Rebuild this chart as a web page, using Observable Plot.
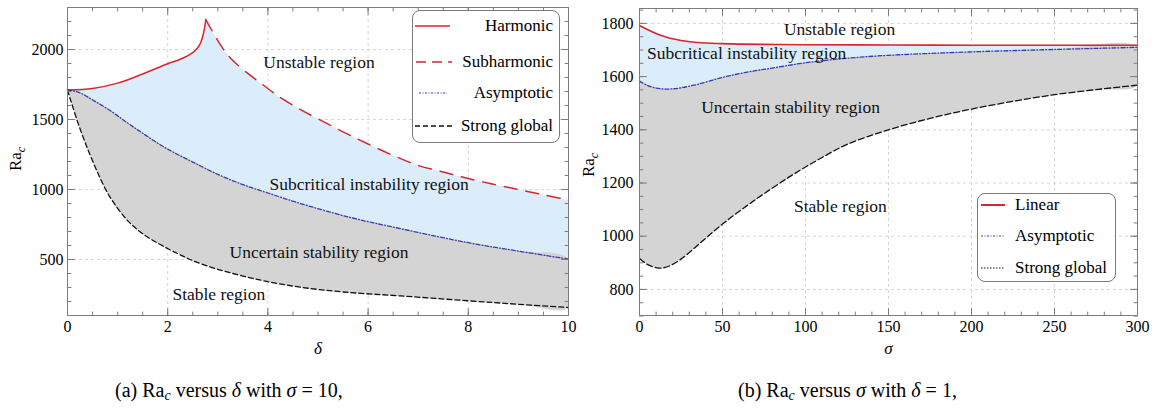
<!DOCTYPE html>
<html><head><meta charset="utf-8">
<script src="https://cdn.jsdelivr.net/npm/d3@7"></script>
<script src="https://cdn.jsdelivr.net/npm/@observablehq/plot@0.6"></script>
<style>
body{margin:0;background:#fff;font-family:"Liberation Serif","Times New Roman",serif;}
#wrap{position:relative;width:1155px;height:409px;overflow:hidden;background:#fff;font-family:"Liberation Serif","Times New Roman",serif;}
.panel{position:absolute;top:0;}
.cap{position:absolute;font-size:20px;white-space:nowrap;line-height:1;color:#000;font-family:"Liberation Serif","Times New Roman",serif;}
.cap sub{font-size:14px;vertical-align:-3px;line-height:0;}
.lg{position:absolute;border:1px solid #7a7a7a;border-radius:8px;background:#fff;box-sizing:border-box;}
.lgtext{position:absolute;font-size:17px;line-height:1;white-space:nowrap;color:#000;font-family:"Liberation Serif","Times New Roman",serif;}
.lgline{position:absolute;overflow:visible;}
</style>
</head><body>
<div id="wrap"></div>
<script>
// ---------- data: panel (a) Ra_c vs delta, sigma = 10 ----------
const deltaHarmonic = [0, 0.5, 1.0, 1.5, 2.0, 2.25, 2.5, 2.6, 2.66, 2.72, 2.76];
const raHarmonic    = [1712, 1722, 1760, 1825, 1898, 1930, 1978, 2012, 2050, 2125, 2214];
const deltaSub = [2.76, 2.86, 3.06, 3.26, 3.6, 3.92, 4.2, 4.65, 5.0, 5.5, 6.0, 6.5, 7.0, 7.5, 8.0, 8.5, 9.0, 9.5, 10];
const raSub    = [2214, 2150, 2029, 1936, 1829, 1743, 1668, 1570, 1505, 1412, 1325, 1243, 1172, 1125, 1078, 1038, 1000, 962, 925];
const deltaAsym = [0, 0.25, 0.5, 0.85, 1.2, 1.5, 1.85, 2.2, 2.5, 3.0, 3.5, 4.0, 4.65, 5.65, 6.65, 8, 9, 10];
const raAsym    = [1712, 1690, 1640, 1564, 1475, 1402, 1320, 1250, 1196, 1108, 1035, 975, 900, 800, 720, 620, 560, 503];
const deltaStrong = [0, 0.05, 0.1, 0.2, 0.3, 0.4, 0.6, 0.85, 1.2, 1.5, 1.85, 2.2, 2.5, 3.0, 3.5, 4.0, 4.65, 5.5, 6.65, 8, 9, 10];
const raStrong    = [1712, 1652, 1596, 1485, 1385, 1292, 1122, 945, 778, 684, 607, 542, 492, 430, 382, 342, 302, 268, 240, 205, 180, 157];

// ---------- data: panel (b) Ra_c vs sigma, delta = 1 ----------
const sigmaLinear = [0, 5, 10, 15, 20, 25, 35, 50, 75, 100, 150, 200, 250, 300];
const raLinear    = [1792, 1776, 1762, 1751, 1742, 1736, 1728, 1724, 1721, 1720, 1719, 1718, 1718, 1718];
const sigmaAsym = [0, 5, 10, 15, 20, 25, 35, 50, 65, 80, 100, 125, 150, 200, 250, 300];
const raAsymB   = [1583, 1566, 1557, 1553, 1554, 1558, 1571, 1597, 1617, 1632, 1652, 1669, 1680, 1693, 1702, 1710];
const sigmaStrong = [0, 5, 10, 13, 18, 25, 35, 45, 55, 65, 75, 90, 100, 110, 125, 150, 175, 200, 225, 250, 275, 300];
const raStrongB   = [916, 893, 882, 880, 888, 914, 966, 1020, 1070, 1116, 1160, 1222, 1260, 1296, 1345, 1400, 1443, 1478, 1507, 1532, 1551, 1568];

// ---------- ticks ----------
const aXTicks = [0, 2, 4, 6, 8, 10];
const aYTicks = [500, 1000, 1500, 2000];
const bXTicks = [0, 50, 100, 150, 200, 250, 300];
const bYTicks = [800, 1000, 1200, 1400, 1600, 1800];
const aXMinor = d3.range(0, 10.001, 0.5);
const aYMinor = d3.range(100, 2300.1, 100);
const bXMinor = d3.range(0, 300.1, 10);
const bYMinor = d3.range(700, 1850.1, 50);

// ---------- region annotations ----------
const aRegions = [
  {t: "Unstable region", x: 5.02, y: 1907},
  {t: "Subcritical instability region", x: 6.02, y: 1036},
  {t: "Uncertain stability region", x: 5.02, y: 550},
  {t: "Stable region", x: 3.02, y: 250}
];
const bRegions = [
  {t: "Unstable region", x: 120.5, y: 1777},
  {t: "Subcritical instability region", x: 64.5, y: 1687},
  {t: "Uncertain stability region", x: 91, y: 1485},
  {t: "Stable region", x: 121, y: 1114}
];

const serif = '"Liberation Serif", "Times New Roman", serif';
const colRed = "#d8262f", colBlue = "#3a3aac", fillBlue = "#dbecfb", fillGray = "#d4d4d4", frameCol = "#7d7d7d", gridCol = "#d6d6d6";
const crv = "catmull-rom";

function series(xs, ys) { return xs.map((x, i) => ({x, y: ys[i]})); }
function poly(upper, lower) { return upper.concat(lower.slice().reverse()); }

const shUp = {draw(c, l) { c.moveTo(0, 0); c.lineTo(0, -l); }};
const shDown = {draw(c, l) { c.moveTo(0, 0); c.lineTo(0, l); }};
const shRight = {draw(c, l) { c.moveTo(0, 0); c.lineTo(l, 0); }};
const shLeft = {draw(c, l) { c.moveTo(0, 0); c.lineTo(-l, 0); }};

function tickMarks(xMaj, xMin, yMaj, yMin) {
  const o = {anchor: "start", stroke: frameCol, strokeWidth: 1};
  const m = [];
  for (const [arr, len] of [[xMaj, 7], [xMin, 3.5]]) {
    m.push(Plot.vector(arr, {...o, x: d => d, frameAnchor: "bottom", length: len, shape: shUp}));
    m.push(Plot.vector(arr, {...o, x: d => d, frameAnchor: "top", length: len, shape: shDown}));
  }
  for (const [arr, len] of [[yMaj, 7], [yMin, 3.5]]) {
    m.push(Plot.vector(arr, {...o, y: d => d, frameAnchor: "left", length: len, shape: shRight}));
    m.push(Plot.vector(arr, {...o, y: d => d, frameAnchor: "right", length: len, shape: shLeft}));
  }
  return m;
}

function raLabel(svg, x, y) {
  const t = d3.select(svg).append("text")
    .attr("transform", `translate(${x},${y}) rotate(-90)`)
    .attr("text-anchor", "middle").attr("font-family", serif)
    .attr("font-size", 17).attr("fill", "#000");
  t.append("tspan").text("Ra");
  t.append("tspan").attr("font-style", "italic").attr("font-size", 12).attr("dy", 4).text("c");
}

const axisOpts = {tickSize: 0, fontSize: 16, fontFamily: serif, fill: "#000", label: null, tickFormat: d => String(d)};
const wrap = document.getElementById("wrap");

// ---------- panel (a) ----------
const harm = series(deltaHarmonic, raHarmonic);
const sub = series(deltaSub, raSub);
const asymA = series(deltaAsym, raAsym);
const strongA = series(deltaStrong, raStrong);
const plotA = Plot.plot({
  width: 575, height: 360,
  marginLeft: 67, marginRight: 7, marginTop: 7, marginBottom: 45,
  style: {fontFamily: serif, background: "transparent", overflow: "visible"},
  x: {domain: [0, 10]},
  y: {domain: [100, 2300]},
  marks: [
    Plot.gridX(aXTicks, {stroke: gridCol, strokeOpacity: 1, strokeDasharray: "3,3"}),
    Plot.gridY(aYTicks, {stroke: gridCol, strokeOpacity: 1, strokeDasharray: "3,3"}),
    Plot.line(poly(harm.concat(sub.slice(1)), asymA), {x: "x", y: "y", fill: fillBlue, stroke: "none", clip: true}),
    Plot.line(poly(asymA, strongA), {x: "x", y: "y", fill: fillGray, stroke: "none", curve: crv, clip: true}),
    Plot.line(harm, {x: "x", y: "y", stroke: colRed, strokeWidth: 1.5, curve: crv}),
    Plot.line(sub, {x: "x", y: "y", stroke: colRed, strokeWidth: 1.5, strokeDasharray: "13,9", curve: crv}),
    Plot.line(asymA, {x: "x", y: "y", stroke: colBlue, strokeWidth: 1.3, strokeDasharray: "4,2,1,2", curve: crv}),
    Plot.line(strongA, {x: "x", y: "y", stroke: "#111", strokeWidth: 1.3, strokeDasharray: "5,3", curve: crv}),
    Plot.frame({stroke: frameCol}),
    ...tickMarks(aXTicks, aXMinor, aYTicks, aYMinor),
    Plot.axisX(aXTicks, {...axisOpts, tickPadding: 5}),
    Plot.axisY(aYTicks, {...axisOpts, tickPadding: 4}),
    Plot.text(aRegions, {x: "x", y: "y", text: "t", fontSize: 17.5, fontFamily: serif, fill: "#111"}),
    Plot.text(["δ"], {text: d => d, frameAnchor: "bottom", dy: 38, fontSize: 17, fontFamily: serif, fontStyle: "italic", fill: "#000"})
  ]
});
raLabel(plotA, 21, 159);
const divA = document.createElement("div");
divA.className = "panel"; divA.style.left = "0px";
divA.appendChild(plotA); wrap.appendChild(divA);

// ---------- panel (b) ----------
const linB = series(sigmaLinear, raLinear);
const asymB = series(sigmaAsym, raAsymB);
const strongB = series(sigmaStrong, raStrongB);
const plotB = Plot.plot({
  width: 575, height: 360,
  marginLeft: 59, marginRight: 18, marginTop: 8, marginBottom: 45,
  style: {fontFamily: serif, background: "transparent", overflow: "visible"},
  x: {domain: [0, 300]},
  y: {domain: [702, 1856]},
  marks: [
    Plot.gridX(bXTicks, {stroke: gridCol, strokeOpacity: 1, strokeDasharray: "3,3"}),
    Plot.gridY(bYTicks, {stroke: gridCol, strokeOpacity: 1, strokeDasharray: "3,3"}),
    Plot.line(poly(linB, asymB), {x: "x", y: "y", fill: fillBlue, stroke: "none", curve: crv, clip: true}),
    Plot.line(poly(asymB, strongB), {x: "x", y: "y", fill: fillGray, stroke: "none", curve: crv, clip: true}),
    Plot.line(linB, {x: "x", y: "y", stroke: colRed, strokeWidth: 1.6, curve: crv}),
    Plot.line(asymB, {x: "x", y: "y", stroke: colBlue, strokeWidth: 1.3, strokeDasharray: "4,2,1,2", curve: crv}),
    Plot.line(strongB, {x: "x", y: "y", stroke: "#111", strokeWidth: 1.3, strokeDasharray: "6,3", curve: crv}),
    Plot.frame({stroke: frameCol}),
    ...tickMarks(bXTicks, bXMinor, bYTicks, bYMinor),
    Plot.axisX(bXTicks, {...axisOpts, tickPadding: 5}),
    Plot.axisY(bYTicks, {...axisOpts, tickPadding: 6}),
    Plot.text(bRegions, {x: "x", y: "y", text: "t", fontSize: 17.5, fontFamily: serif, fill: "#111"}),
    Plot.text(["σ"], {text: d => d, frameAnchor: "bottom", dy: 38, fontSize: 17, fontFamily: serif, fontStyle: "italic", fill: "#000"})
  ]
});
raLabel(plotB, 14, 165);
const divB = document.createElement("div");
divB.className = "panel"; divB.style.left = "580px";
divB.appendChild(plotB); wrap.appendChild(divB);

// ---------- legends ----------
function legend(box, items) {
  const b = document.createElement("div");
  b.className = "lg";
  Object.assign(b.style, {left: box.left + "px", top: box.top + "px", width: box.w + "px", height: box.h + "px"});
  wrap.appendChild(b);
  for (const it of items) {
    const s = document.createElementNS("http://www.w3.org/2000/svg", "svg");
    s.setAttribute("class", "lgline");
    s.setAttribute("width", it.x2 - it.x1); s.setAttribute("height", 4);
    s.style.left = it.x1 + "px"; s.style.top = (it.y - 2) + "px";
    const ln = document.createElementNS("http://www.w3.org/2000/svg", "line");
    ln.setAttribute("x1", 0); ln.setAttribute("x2", it.x2 - it.x1);
    ln.setAttribute("y1", 2); ln.setAttribute("y2", 2);
    ln.setAttribute("stroke", it.stroke); ln.setAttribute("stroke-width", it.sw);
    if (it.dash) ln.setAttribute("stroke-dasharray", it.dash);
    s.appendChild(ln); wrap.appendChild(s);
    const t = document.createElement("div");
    t.className = "lgtext"; t.textContent = it.label;
    t.style.top = (it.y - 9) + "px";
    if (it.right != null) { t.style.right = (1155 - it.right) + "px"; }
    else { t.style.left = it.left + "px"; }
    wrap.appendChild(t);
  }
}
legend({left: 412, top: 10, w: 148, h: 133}, [
  {label: "Harmonic", y: 26, x1: 415, x2: 450, right: 553, stroke: colRed, sw: 1.5},
  {label: "Subharmonic", y: 62, x1: 416, x2: 452, right: 553, stroke: colRed, sw: 1.5, dash: "10,6"},
  {label: "Asymptotic", y: 93, x1: 419, x2: 447, right: 553, stroke: colBlue, sw: 1, dash: "2,1.5,1,1.5"},
  {label: "Strong global", y: 126, x1: 415, x2: 452, right: 553, stroke: "#111", sw: 1.3, dash: "5,3"}
]);
legend({left: 977, top: 193, w: 139, h: 89}, [
  {label: "Linear", y: 205, x1: 981, x2: 1005, left: 1015, stroke: colRed, sw: 2},
  {label: "Asymptotic", y: 236, x1: 981, x2: 1005, left: 1015, stroke: colBlue, sw: 1, dash: "2,1.5,1,1.5"},
  {label: "Strong global", y: 268, x1: 981, x2: 1005, left: 1015, stroke: "#111", sw: 1, dash: "1.5,1.5"}
]);

// ---------- captions ----------
function caption(html, left) {
  const c = document.createElement("div");
  c.className = "cap"; c.innerHTML = html;
  c.style.left = left + "px"; c.style.top = "380px";
  wrap.appendChild(c);
}
caption('(a) Ra<sub><i>c</i></sub> versus <i>δ</i> with <i>σ</i> = 10,', 115);
caption('(b) Ra<sub><i>c</i></sub> versus <i>σ</i> with <i>δ</i> = 1,', 738);
</script>
</body></html>
